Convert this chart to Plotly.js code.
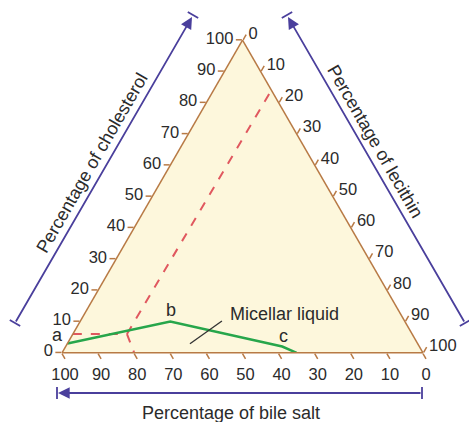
<!DOCTYPE html>
<html>
<head>
<meta charset="utf-8">
<script src="https://cdn.plot.ly/plotly-3.0.1.min.js"></script>
<style>html,body{margin:0;padding:0;background:#fff;}#chart{width:469px;height:422px;}</style>
</head>
<body>
<div id="chart"></div>
<script>
// Tick values for all three axes (percent)
const tickVals = [0, 10, 20, 30, 40, 50, 60, 70, 80, 90, 100];

// Green boundary a-b-c  (a = cholesterol, b = bile salt, c = lecithin)
const greenChol = [3, 10, 2, 0];
const greenBile = [97, 65, 38, 35];
const greenLec  = [0, 25, 60, 65];

// Red dashed line: horizontal part and long diagonal
const redHChol = [6, 6, 0];
const redHBile = [94, 79, 80];
const redHLec  = [0, 15, 20];

const redDChol = [6, 84];
const redDBile = [79, 0];
const redDLec  = [15, 16];

// Pointer line to "Micellar liquid"
const ptrChol = [2.9, 10.2];
const ptrBile = [63.1, 50.6];
const ptrLec  = [34.0, 39.2];

const W = 469, H = 422;
const px = v => v / W;
const py = v => 1 - v / H;

const brown = '#b87a45';
const blue = '#4a3f9c';
const txt = '#2b2b2b';
const font = 'Liberation Sans, Arial, sans-serif';

function axis() {
  return {
    title: {text: ''},
    min: 0,
    tickmode: 'array',
    tickvals: tickVals,
    ticktext: tickVals.map(String),
    ticks: 'outside',
    ticklen: 6,
    tickwidth: 1.5,
    tickcolor: brown,
    showline: true,
    linecolor: brown,
    linewidth: 1.5,
    showgrid: false,
    tickfont: {family: font, size: 16.5, color: txt}
  };
}

const traces = [
  {type: 'scatterternary', mode: 'lines', a: redHChol, b: redHBile, c: redHLec,
   line: {color: '#e0585f', width: 2, dash: 'dash'}, hoverinfo: 'skip'},
  {type: 'scatterternary', mode: 'lines', a: redDChol, b: redDBile, c: redDLec,
   line: {color: '#e0585f', width: 2, dash: 'dash'}, hoverinfo: 'skip'},
  {type: 'scatterternary', mode: 'lines', a: greenChol, b: greenBile, c: greenLec,
   line: {color: '#27a64b', width: 2.5}, hoverinfo: 'skip'},
  {type: 'scatterternary', mode: 'lines', a: ptrChol, b: ptrBile, c: ptrLec,
   line: {color: '#333', width: 1.3}, hoverinfo: 'skip'}
];

function bar(x0, y0, x1, y1) {
  return {type: 'line', xref: 'paper', yref: 'paper',
    x0: px(x0), y0: py(y0), x1: px(x1), y1: py(y1),
    line: {color: blue, width: 1.8}};
}
function arrow(tipX, tipY, tailX, tailY) {
  return {xref: 'paper', yref: 'paper', x: px(tipX), y: py(tipY),
    ax: tailX - tipX, ay: tailY - tipY, axref: 'pixel', ayref: 'pixel',
    text: '', showarrow: true, arrowhead: 2, arrowsize: 1.3, arrowwidth: 1.8,
    arrowcolor: blue};
}
function label(text, x, y, size, angle) {
  return {xref: 'paper', yref: 'paper', x: px(x), y: py(y), text: text,
    showarrow: false, xanchor: 'center', yanchor: 'middle', textangle: angle || 0,
    font: {family: font, size: size, color: txt}};
}

const layout = {
  width: W, height: H,
  margin: {l: 0, r: 0, t: 0, b: 0},
  paper_bgcolor: '#ffffff',
  showlegend: false,
  font: {family: font},
  ternary: {
    sum: 100,
    domain: {x: [62 / W, 423 / W], y: [69 / H, 382 / H]},
    bgcolor: '#fdf7dc',
    aaxis: axis(),
    baxis: axis(),
    caxis: axis()
  },
  shapes: [
    bar(9.8, 320, 20.2, 326), bar(187.8, 12, 198.2, 18),
    bar(281.8, 18, 292.2, 12), bar(459.8, 326, 470.2, 320),
    bar(57, 387, 57, 399), bar(422, 387, 422, 399)
  ],
  annotations: [
    arrow(192, 17, 15, 323),
    arrow(288, 17, 465, 323),
    arrow(58, 393, 422, 393),
    label('Percentage of cholesterol', 92, 163, 18, -60),
    label('Percentage of lecithin', 375, 141, 18, 60),
    label('Percentage of bile salt', 231, 413, 18, 0),
    label('a', 57.5, 335, 18),
    label('b', 171, 310, 18),
    label('c', 283, 336, 18),
    label('Micellar liquid', 284, 313.5, 18)
  ]
};

Plotly.newPlot('chart', traces, layout, {displayModeBar: false, staticPlot: true});
</script>
</body>
</html>
